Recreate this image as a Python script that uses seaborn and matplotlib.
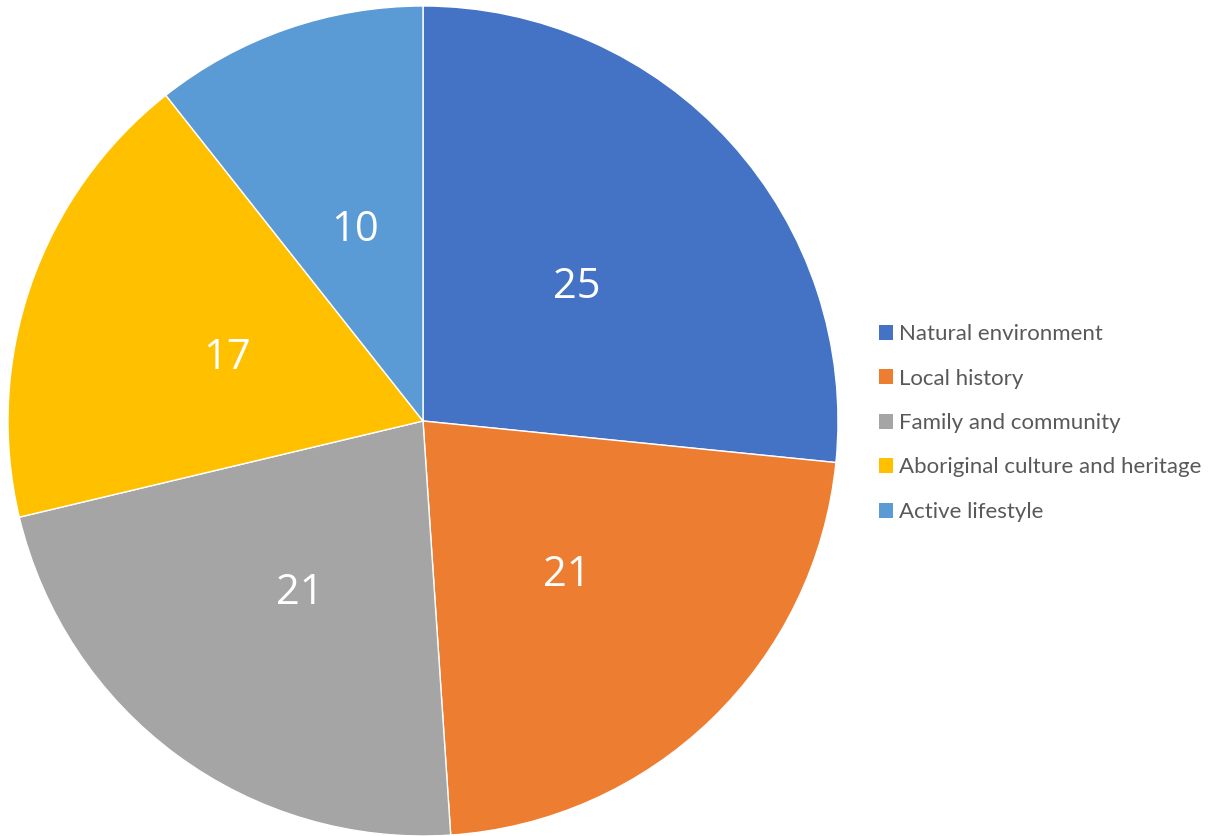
import matplotlib.pyplot as plt
import seaborn as sns
from matplotlib.patches import Patch

categories = [
    "Natural environment",
    "Local history",
    "Family and community",
    "Aboriginal culture and heritage",
    "Active lifestyle",
]
values = [25, 21, 21, 17, 10]
slice_colors = ["#4472C4", "#ED7D31", "#A5A5A5", "#FFC000", "#5B9BD5"]

sns.set_theme(style="white")
plt.rcParams["font.family"] = ["Lato", "DejaVu Sans"]

palette = sns.color_palette(slice_colors)

fig = plt.figure(figsize=(12.08, 8.36), dpi=100)
fig.patch.set_facecolor("white")
ax = fig.add_axes([8 / 1208, 0.0, 830 / 1208, 830 / 836])

wedges, texts = ax.pie(
    values,
    colors=palette,
    startangle=90,
    counterclock=False,
    labels=[str(v) for v in values],
    labeldistance=0.5,
    wedgeprops=dict(edgecolor="white", linewidth=1.0),
    textprops=dict(color="white", fontsize=30, family=["Open Sans", "DejaVu Sans"]),
)
for t in texts:
    t.set_horizontalalignment("center")
    t.set_verticalalignment("center_baseline")
ax.set_xlim(-1, 1)
ax.set_ylim(-1, 1)
ax.set_aspect("equal")
ax.axis("off")

handles = [Patch(facecolor=c, edgecolor="none") for c in palette]
leg = fig.legend(
    handles,
    categories,
    loc="center left",
    bbox_to_anchor=(859 / 1208, 1 - 423 / 836),
    frameon=False,
    fontsize=16,
    handlelength=0.65,
    handleheight=0.65,
    handletextpad=0.25,
    labelspacing=1.1,
    labelcolor="#595959",
)

fig.savefig("out.png", dpi=100)
